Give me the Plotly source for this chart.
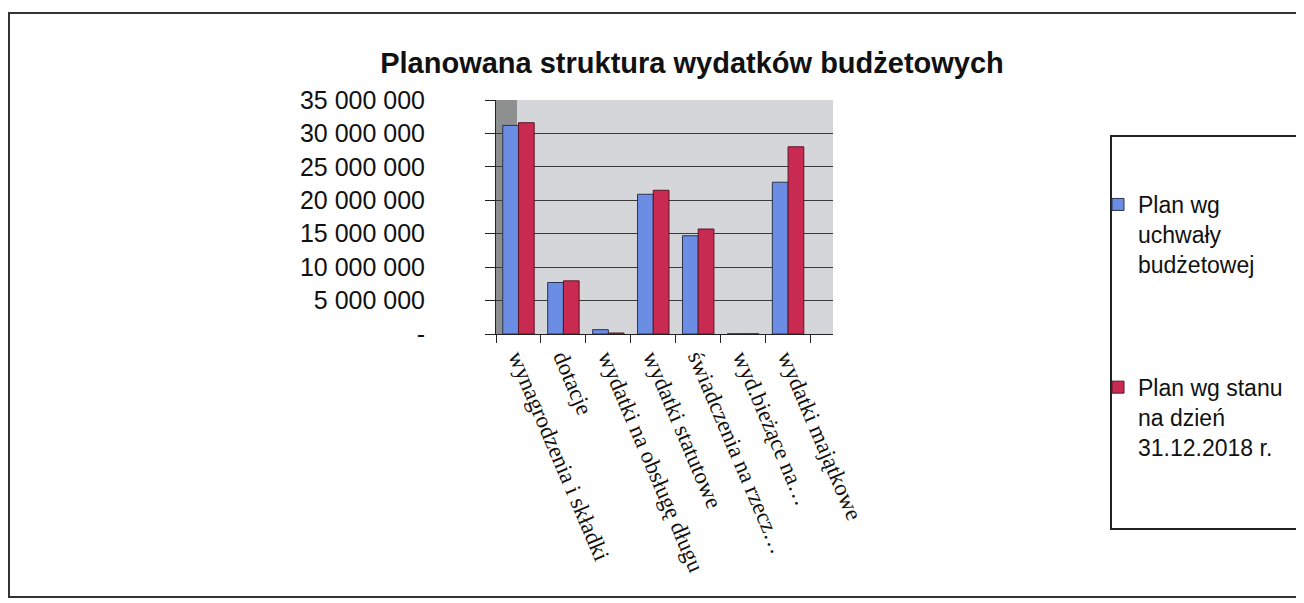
import plotly.graph_objects as go

categories = ['wynagrodzenia i składki', 'dotacje', 'wydatki na obsługę długu',
              'wydatki statutowe', 'świadczenia na rzecz…', 'wyd.bieżące na…',
              'wydatki majątkowe']
plan_uchwala = [31200000, 7700000, 650000, 20900000, 14700000, 30000, 22700000]
plan_stan = [31600000, 7950000, 150000, 21500000, 15700000, 30000, 28000000]
series_names = ['Plan wg<br>uchwały<br>budżetowej', 'Plan wg stanu<br>na dzień<br>31.12.2018 r.']
tick_vals = [0, 5000000, 10000000, 15000000, 20000000, 25000000, 30000000, 35000000]
tick_text = ['-', '5 000 000', '10 000 000', '15 000 000', '20 000 000',
             '25 000 000', '30 000 000', '35 000 000']

# the page body has an 8px margin, so work in page pixels and shift
OFF = 8
W, H = 1304, 603
L, R, T, B = 496, 833, 100, 334   # plot area, page pixels


def px_x(x):
    return (x - L) / (R - L)


def px_y(y):
    return (B - y) / (B - T)


fig = go.Figure()
fig.add_trace(go.Bar(x=categories, y=plan_uchwala, name=series_names[0], legendgroup='a',
                     marker=dict(color='#6b8de3', line=dict(color='#2a3550', width=1))))
fig.add_trace(go.Bar(x=categories, y=plan_stan, name=series_names[1], legendgroup='b',
                     marker=dict(color='#c92a52', line=dict(color='#5a1525', width=1))))

# outer frame, legend box, left 3d wall
fig.add_shape(type='rect', xref='paper', yref='paper', x0=px_x(9), x1=px_x(1330),
              y0=px_y(597), y1=px_y(13), line=dict(color='#333333', width=2), layer='below')
fig.add_shape(type='rect', xref='paper', yref='paper', x0=px_x(1111), x1=px_x(1300),
              y0=px_y(529), y1=px_y(136), line=dict(color='#222222', width=2), layer='below')
fig.add_shape(type='rect', xref='paper', yref='paper', x0=0, x1=px_x(517),
              y0=0, y1=1, fillcolor='#8e9090', line=dict(width=0), layer='below')

fig.update_layout(
    width=W, height=H,
    paper_bgcolor='white', plot_bgcolor='#d5d6da',
    margin=dict(l=L - OFF, r=W - (R - OFF), t=T - OFF, b=H - (B - OFF)),
    font=dict(family='Liberation Sans, Arial', color='#111111'),
    title=dict(text='<b>Planowana struktura wydatków budżetowych</b>',
               x=(692 - OFF) / W, xanchor='center', y=1 - (63 - OFF) / H, yanchor='middle',
               font=dict(size=29, color='#111111')),
    barmode='group', bargap=0.3, bargroupgap=0,
    showlegend=True,
    legend=dict(xref='container', yref='container', x=(1098 - OFF) / W, y=1 - (183 - OFF) / H,
                xanchor='left', yanchor='top', bgcolor='rgba(0,0,0,0)',
                font=dict(size=23, color='#111111'), valign='top',
                tracegroupgap=90, itemwidth=30),
)
fig.update_xaxes(tickangle=67, tickfont=dict(family='Liberation Serif, Times New Roman', size=23),
                 ticks='outside', tickson='boundaries', ticklen=8, tickcolor='#222222',
                 showline=True, linecolor='#222222', linewidth=1, range=[-0.5, 7.0],
                 showgrid=False)
fig.update_yaxes(range=[0, 35000000], tickvals=tick_vals, ticktext=tick_text,
                 tickfont=dict(size=25), ticks='outside', ticklen=10, tickcolor='#222222',
                 ticklabelstandoff=55,
                 showline=True, linecolor='#222222', linewidth=1,
                 gridcolor='#3a3a3a', gridwidth=1, zeroline=False)

fig.write_html('out.html')
